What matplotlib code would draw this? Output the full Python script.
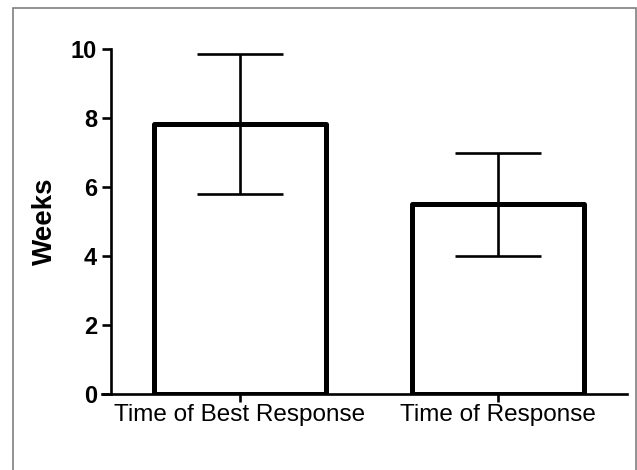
import matplotlib
matplotlib.use("Agg")
import matplotlib.pyplot as plt
from matplotlib.patches import Rectangle

plt.rcParams['font.family'] = ['Liberation Sans', 'DejaVu Sans']

# Mean time (weeks) with error range for each response measure
categories = ["Time of Best Response", "Time of Response"]
means = [7.83, 5.5]
err_low = [2.03, 1.5]
err_high = [2.04, 1.5]
y_ticks = [0, 2, 4, 6, 8, 10]

fig = plt.figure(figsize=(6.37, 4.70), dpi=100)
ax = fig.add_axes([0.1743, 0.1617, 0.810, 0.734])

x = list(range(len(categories)))
ax.bar(x, means, width=0.663, color="white", edgecolor="black",
       linewidth=3.6, joinstyle="round", zorder=2)
ax.errorbar(x, means, yerr=[err_low, err_high], fmt="none", ecolor="black",
            elinewidth=1.9, capsize=31, capthick=1.9, zorder=3)

ax.set_xlim(-0.5, 1.5)
ax.set_ylim(0, 10)
ax.set_yticks(y_ticks)
ax.set_xticks(x)
ax.set_xticklabels(categories, fontsize=17.5)
ax.set_yticklabels([str(t) for t in y_ticks], fontsize=17, fontweight="bold")

ax.set_ylabel("Weeks", fontsize=20, fontweight="bold")
ax.yaxis.set_label_coords(-0.103, 0.5)

for side in ("top", "right"):
    ax.spines[side].set_visible(False)
for side in ("left", "bottom"):
    ax.spines[side].set_linewidth(1.9)
# bottom axis line runs out to the end of the y ticks
ax.spines["bottom"].set_bounds(-0.535, 1.5)

ax.tick_params(axis="y", length=6.5, width=1.9, pad=3.5, color="black")
ax.tick_params(axis="x", length=6, width=1.9, pad=1, color="black")

# thin gray frame around the figure
fig.patches.append(Rectangle((13 / 637, -0.02), 623 / 637, 0.02 + 462 / 470,
                             transform=fig.transFigure, fill=False,
                             edgecolor="#7f7f7f", linewidth=1.2))

fig.savefig("out.png", dpi=100)
